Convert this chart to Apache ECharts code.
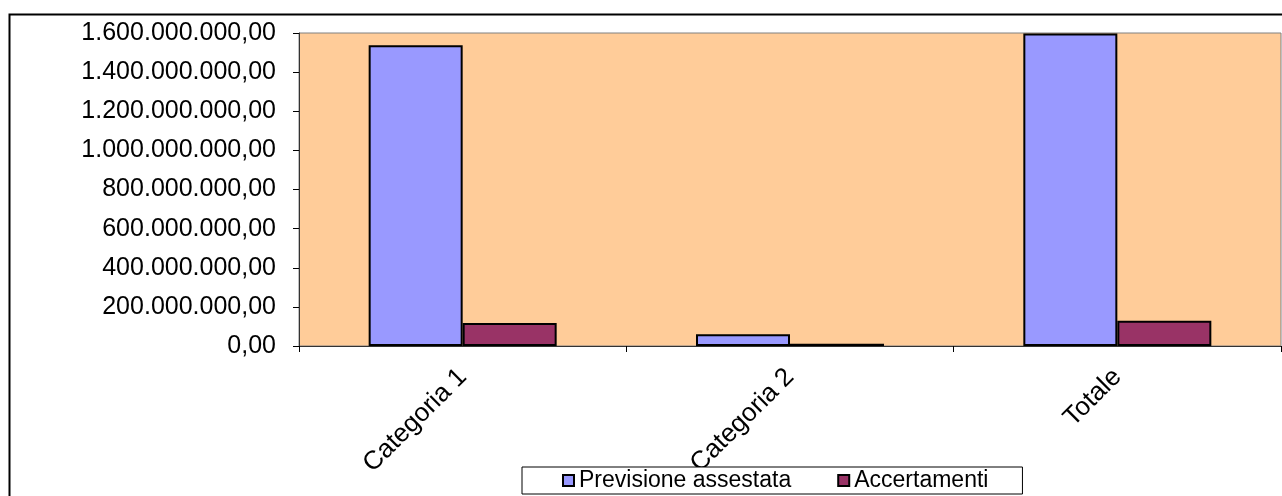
<!DOCTYPE html>
<html>
<head>
<meta charset="utf-8">
<title>Previsione assestata / Accertamenti</title>
<script src="https://cdn.jsdelivr.net/npm/echarts@6/dist/echarts.min.js"></script>
<style>
  html, body { margin: 0; padding: 0; background: #fff; }
  #chart { width: 1282px; height: 496px; }
</style>
</head>
<body>
<div id="chart"></div>
<script>
// Categories and series values (euro)
const categories = ['Categoria 1', 'Categoria 2', 'Totale'];
const previsioneAssestata = [1538000000, 60000000, 1598000000];
const accertamenti = [117500000, 11000000, 128500000];

// Y axis range and step
const yMin = 0;
const yMax = 1600000000;
const yStep = 200000000;

// Italian number format: thousands with '.', decimals with ','
function formatIt(v) {
  const fixed = Math.abs(v).toFixed(2);
  const parts = fixed.split('.');
  const intPart = parts[0].replace(/\B(?=(\d{3})+(?!\d))/g, '.');
  return (v < 0 ? '-' : '') + intPart + ',' + parts[1];
}

const FONT = 'Liberation Sans, Arial, sans-serif';
const chart = echarts.init(document.getElementById('chart'), null, { renderer: 'canvas' });

chart.setOption({
  backgroundColor: '#ffffff',
  animation: false,
  graphic: [{
    type: 'rect',
    silent: true,
    z: -1,
    shape: { x: 9.5, y: 14.5, width: 1400, height: 700 },
    style: { fill: null, stroke: '#000', lineWidth: 2 }
  }],
  grid: {
    left: 299,
    right: 1,
    top: 33,
    bottom: 150,
    show: true,
    backgroundColor: '#FFCC99',
    borderColor: '#808080',
    borderWidth: 1
  },
  legend: {
    left: 522,
    top: 467,
    orient: 'horizontal',
    icon: 'rect',
    padding: [2, 34, 2, 40],
    itemGap: 46,
    itemWidth: 11,
    itemHeight: 11,
    borderColor: '#000',
    borderWidth: 1,
    backgroundColor: '#fff',
    textStyle: { fontFamily: FONT, fontSize: 23, color: '#000' },
    data: ['Previsione assestata', 'Accertamenti']
  },
  xAxis: {
    type: 'category',
    data: categories,
    axisLine: { show: true, lineStyle: { color: '#333', width: 1 } },
    axisTick: { show: true, length: 6, interval: 0, lineStyle: { color: '#000' } },
    axisLabel: {
      interval: 0,
      rotate: 45,
      margin: 27,
      fontFamily: FONT,
      fontSize: 26,
      color: '#000'
    },
    splitLine: { show: false }
  },
  yAxis: {
    type: 'value',
    min: yMin,
    max: yMax,
    interval: yStep,
    axisLine: { show: true, lineStyle: { color: '#333', width: 1 } },
    axisTick: { show: true, length: 6, lineStyle: { color: '#000' } },
    axisLabel: {
      margin: 23,
      fontFamily: FONT,
      fontSize: 25,
      color: '#000',
      formatter: formatIt
    },
    splitLine: { show: false }
  },
  series: [
    {
      name: 'Previsione assestata',
      type: 'bar',
      data: previsioneAssestata,
      barWidth: 94,
      barGap: '0%',
      itemStyle: { color: '#9999FF', borderColor: '#000', borderWidth: 2 }
    },
    {
      name: 'Accertamenti',
      type: 'bar',
      data: accertamenti,
      barWidth: 94,
      barGap: '0%',
      itemStyle: { color: '#993366', borderColor: '#000', borderWidth: 2 }
    }
  ]
});
</script>
</body>
</html>
